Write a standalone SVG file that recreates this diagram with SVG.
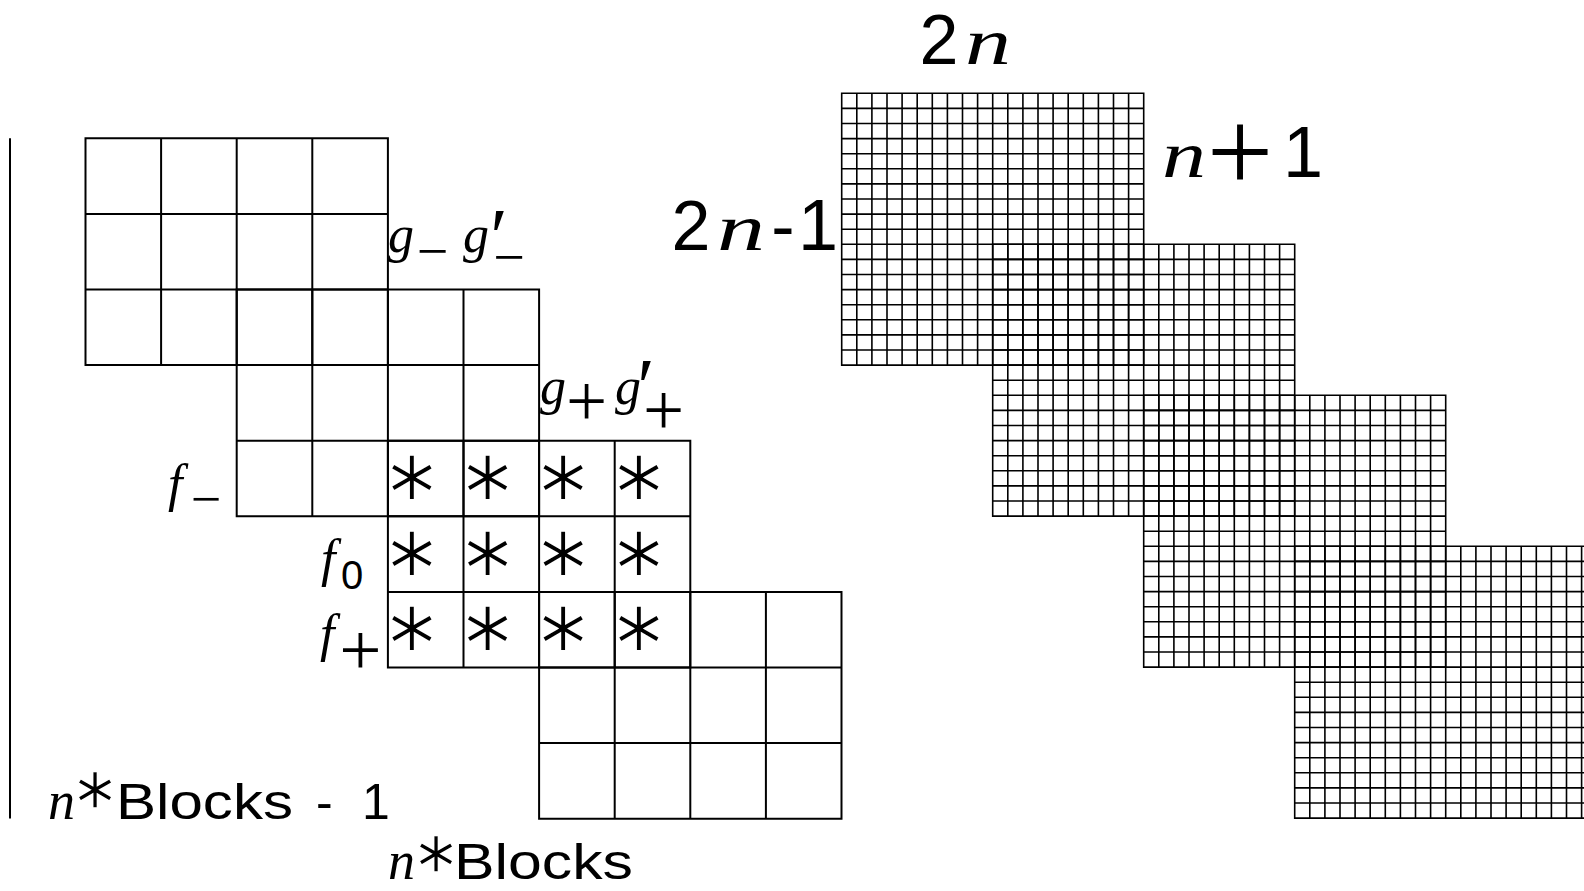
<svg xmlns="http://www.w3.org/2000/svg" width="1584" height="891" viewBox="0 0 1584 891">
<style>
.coarse{fill:none;stroke:#000;stroke-width:2;stroke-linecap:square}
.fine{fill:none;stroke:#000;stroke-width:1.6;stroke-linecap:square}
.mi{font-family:"Liberation Serif",serif;font-style:italic;fill:#000}
.rm{font-family:"Liberation Serif",serif;fill:#000;text-anchor:middle}
.sf{font-family:"Liberation Sans",sans-serif;fill:#000}
.ast{font-family:"DejaVu Sans",sans-serif;font-size:72px;text-anchor:middle;dominant-baseline:central;fill:#000;stroke:#fff;stroke-width:2}
.pr{font-family:"DejaVu Sans",sans-serif;text-anchor:middle;fill:#000}
.thin{stroke:#fff;stroke-width:1.4}
</style>
<defs>
<path id="cblock" d="M0 0H302.4M0 75.6H302.4M0 151.2H302.4M0 226.8H302.4M0 0V226.8M75.6 0V226.8M151.2 0V226.8M226.8 0V226.8M302.4 0V226.8"/>
<path id="fblock" d="M0 0H302M0 15.1H302M0 30.2H302M0 45.3H302M0 60.4H302M0 75.5H302M0 90.6H302M0 105.7H302M0 120.8H302M0 135.9H302M0 151H302M0 166.1H302M0 181.2H302M0 196.3H302M0 211.4H302M0 226.5H302M0 241.6H302M0 256.7H302M0 271.8H302M0 0V271.8M15.1 0V271.8M30.2 0V271.8M45.3 0V271.8M60.4 0V271.8M75.5 0V271.8M90.6 0V271.8M105.7 0V271.8M120.8 0V271.8M135.9 0V271.8M151 0V271.8M166.1 0V271.8M181.2 0V271.8M196.3 0V271.8M211.4 0V271.8M226.5 0V271.8M241.6 0V271.8M256.7 0V271.8M271.8 0V271.8M286.9 0V271.8M302 0V271.8"/>
</defs>
<rect width="1584" height="891" fill="#fff"/>

<g id="coarse-block-1" class="coarse"><use href="#cblock" x="85.5" y="138.3"/></g>
<g id="coarse-block-2" class="coarse"><use href="#cblock" x="236.7" y="289.5"/></g>
<g id="coarse-block-3" class="coarse"><use href="#cblock" x="387.9" y="440.7"/></g>
<g id="coarse-block-4" class="coarse"><use href="#cblock" x="539.1" y="591.9"/></g>

<g id="fine-block-1" class="fine"><use href="#fblock" x="841.7" y="93.3"/></g>
<g id="fine-block-2" class="fine"><use href="#fblock" x="992.7" y="244.3"/></g>
<g id="fine-block-3" class="fine"><use href="#fblock" x="1143.7" y="395.3"/></g>
<g id="fine-block-4" class="fine"><use href="#fblock" x="1294.7" y="546.3"/></g>

<g id="connectors">
<line x1="10" y1="138.3" x2="10" y2="818.5" stroke="#000" stroke-width="2"/>
</g>

<g id="asterisks">
<text class="ast" x="412" y="474.5">∗</text>
<text class="ast" x="487.6" y="474.5">∗</text>
<text class="ast" x="563.2" y="474.5">∗</text>
<text class="ast" x="638.8" y="474.5">∗</text>
<text class="ast" x="412" y="550.5">∗</text>
<text class="ast" x="487.6" y="550.5">∗</text>
<text class="ast" x="563.2" y="550.5">∗</text>
<text class="ast" x="638.8" y="550.5">∗</text>
<text class="ast" x="412" y="626">∗</text>
<text class="ast" x="487.6" y="626">∗</text>
<text class="ast" x="563.2" y="626">∗</text>
<text class="ast" x="638.8" y="626">∗</text>
</g>

<g id="label-g-minus">
<text class="mi" x="388" y="252" font-size="52">g</text>
<text class="rm" x="432.5" y="270" font-size="56">−</text>
</g>
<g id="label-gprime-minus">
<text class="mi" x="463" y="252" font-size="52">g</text>
<text class="rm" x="499" y="264" font-size="80">′</text>
<text class="rm" x="509" y="276" font-size="56">−</text>
</g>
<g id="label-g-plus">
<text class="mi" x="540" y="404" font-size="52">g</text>
<text class="rm" x="586.5" y="425.5" font-size="73">+</text>
</g>
<g id="label-gprime-plus">
<text class="mi" x="615" y="404" font-size="52">g</text>
<text class="rm" x="646" y="414" font-size="80">′</text>
<text class="rm" x="663.5" y="434.5" font-size="73">+</text>
</g>

<g id="label-f-minus">
<text class="mi" x="168" y="501" font-size="52">f</text>
<text class="rm" x="206" y="517" font-size="54">−</text>
</g>
<g id="label-f-zero">
<text class="mi" x="321" y="576" font-size="52">f</text>
<text class="sf" x="352" y="589" font-size="40" text-anchor="middle">0</text>
</g>
<g id="label-f-plus">
<text class="mi" x="320" y="651" font-size="52">f</text>
<text class="rm" x="360.5" y="675" font-size="75">+</text>
</g>

<g id="label-nblocks-minus-1">
<text class="mi" x="48" y="819" font-size="54">n</text>
<text class="pr thin" x="95" y="808" font-size="58">∗</text>
<text class="sf" y="819" font-size="50"><tspan x="116" textLength="177" lengthAdjust="spacingAndGlyphs">Blocks</tspan><tspan x="316">-</tspan><tspan x="362">1</tspan></text>
</g>
<g id="label-nblocks">
<text class="mi" x="388" y="879" font-size="54">n</text>
<text class="pr thin" x="436" y="872" font-size="58">∗</text>
<text class="sf" x="454" y="879" font-size="50" textLength="179" lengthAdjust="spacingAndGlyphs">Blocks</text>
</g>

<g id="label-2n">
<text class="sf" x="939" y="64" font-size="70" text-anchor="middle">2</text>
<text class="mi" x="965" y="64" font-size="66" textLength="46" lengthAdjust="spacingAndGlyphs">n</text>
</g>
<g id="label-n-plus-1">
<text class="mi" x="1162" y="177" font-size="66" textLength="44" lengthAdjust="spacingAndGlyphs">n</text>
<text class="rm" x="1240" y="192" font-size="118">+</text>
<text class="sf" x="1303" y="177" font-size="72" text-anchor="middle">1</text>
</g>
<g id="label-2n-minus-1">
<text class="sf" x="691" y="250" font-size="70" text-anchor="middle">2</text>
<text class="mi" x="717" y="250" font-size="66" textLength="48" lengthAdjust="spacingAndGlyphs">n</text>
<text class="sf" x="783" y="250" font-size="70" text-anchor="middle">-</text>
<text class="sf" x="818" y="250" font-size="72" text-anchor="middle">1</text>
</g>
</svg>
